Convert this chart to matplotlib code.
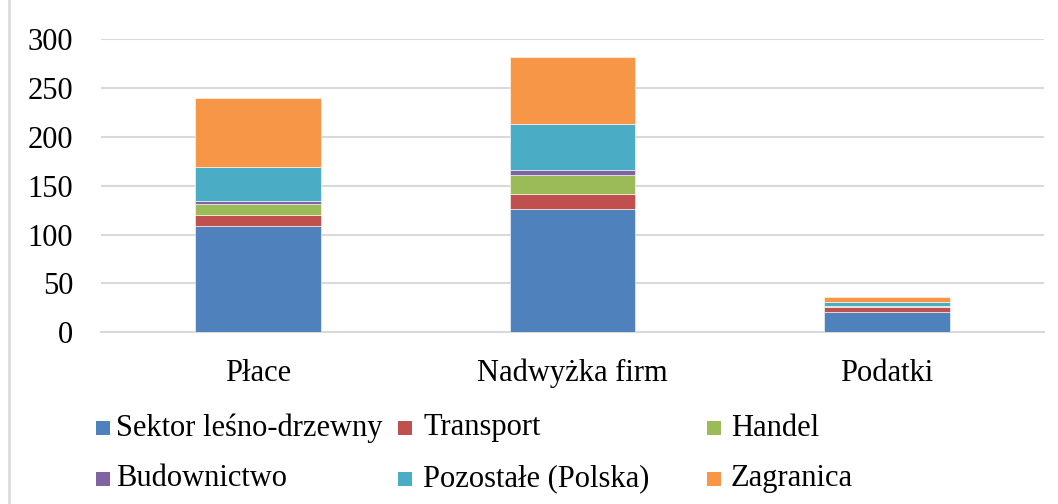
import matplotlib
matplotlib.use("Agg")
import matplotlib.pyplot as plt
from matplotlib.patches import Rectangle
from matplotlib.lines import Line2D
import numpy as np

plt.rcParams['font.family'] = ['Liberation Serif', 'DejaVu Serif']

categories = ["Płace", "Nadwyżka firm", "Podatki"]
series_names = ["Sektor leśno-drzewny", "Transport", "Handel",
                "Budownictwo", "Pozostałe (Polska)", "Zagranica"]
sektor = [109.0, 126.0, 20.5]
transport = [11.3, 16.0, 5.7]
handel = [10.7, 18.8, 0.7]
budownictwo = [3.3, 5.5, 0.2]
pozostale = [34.5, 47.1, 4.2]
zagranica = [70.7, 68.3, 5.1]
yticks = [0, 50, 100, 150, 200, 250, 300]

colors = ["#4F81BD", "#C0504D", "#9BBB59", "#8064A2", "#4BACC6", "#F79646"]
series = [sektor, transport, handel, budownictwo, pozostale, zagranica]

W, H = 1058, 504
fig = plt.figure(figsize=(W / 100, H / 100), dpi=100)
ax = fig.add_axes([101 / W, (H - 332.3) / H, (1044 - 101) / W, (332.3 - 39.3) / H])

x = np.arange(len(categories))
bottom = np.zeros(len(categories))
for vals, c, name in zip(series, colors, series_names):
    ax.bar(x, vals, 0.4, bottom=bottom, color=c, label=name, zorder=3,
           edgecolor='white', linewidth=0.4)
    bottom += np.array(vals)

ax.set_xlim(-0.5, len(categories) - 0.5)
ax.set_ylim(0, 300)
ax.set_yticks(yticks)
ax.set_yticklabels([str(v) for v in yticks])
ax.set_xticks(x)
ax.set_xticklabels(categories)
ax.yaxis.grid(True, color='#D9D9D9', linewidth=1.5, zorder=0)
ax.set_axisbelow(True)
for s in ['top', 'right', 'left']:
    ax.spines[s].set_visible(False)
ax.spines['bottom'].set_color('#D9D9D9')
ax.spines['bottom'].set_linewidth(1.5)
ax.tick_params(axis='both', length=0, labelsize=22, colors='black')
ax.tick_params(axis='y', pad=20)
ax.tick_params(axis='x', pad=19)

# chart area left border
fig.add_artist(Line2D([8.5 / W, 8.5 / W], [0, 1], color='#D9D9D9', linewidth=1.8,
                      transform=fig.transFigure))

# legend (manual, Excel-like fixed columns)
leg_sq_x = [96, 398, 707]
leg_txt_x = [116, 423, 731]
leg_y = [428, 478.5]
sq = 14
for i, (name, c) in enumerate(zip(series_names, colors)):
    r, col = divmod(i, 3)
    cy = leg_y[r]
    fig.add_artist(Rectangle(((leg_sq_x[col]) / W, (H - cy - sq / 2) / H), sq / W, sq / H,
                             facecolor=c, edgecolor='none', transform=fig.transFigure))
    fig.text(leg_txt_x[col] / W, (H - cy) / H, name, fontsize=22, va='center', ha='left')

fig.savefig("out.png", dpi=100)
